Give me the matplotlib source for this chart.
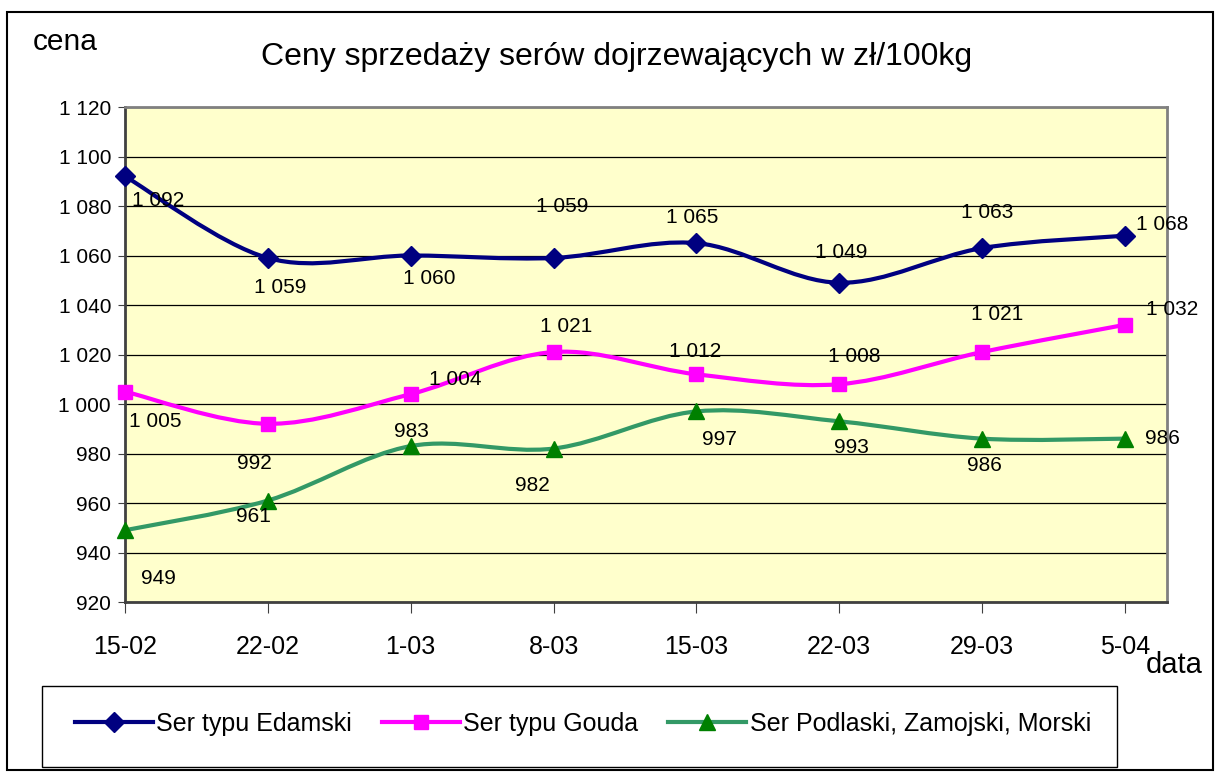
import matplotlib
matplotlib.use('Agg')
import matplotlib.pyplot as plt
from matplotlib.path import Path
from matplotlib.patches import PathPatch, Rectangle
from matplotlib.lines import Line2D

plt.rcParams['font.family'] = ['Liberation Sans', 'DejaVu Sans']

# data
dates = ["15-02", "22-02", "1-03", "8-03", "15-03", "22-03", "29-03", "5-04"]
edamski = [1092, 1059, 1060, 1059, 1065, 1049, 1063, 1068]
gouda = [1005, 992, 1004, 1021, 1012, 1008, 1021, 1032]
podlaski = [949, 961, 983, 982, 997, 993, 986, 986]
names = ["Ser typu Edamski", "Ser typu Gouda", "Ser Podlaski, Zamojski, Morski"]

# label offsets in pixels (dx, dy) from each marker
off_edam = [(33, -24), (12, -30), (19, -23), (9, 51), (-4, 26), (2, 30), (5, 36), (37, 11)]
off_gouda = [(30, -30), (-13, -40), (45, 15), (13, 26), (-1, 23), (15, 28), (15, 38), (47, 15)]
off_podl = [(33, -48), (-14, -16), (1, 15), (-21, -37), (23, -28), (12, -26), (2, -27), (37, 0)]


def smooth(xs, ys):
    # Excel-like smoothed line: Catmull-Rom through the points as cubic Bezier
    pts = list(zip(xs, ys))
    n = len(pts)
    verts = [pts[0]]
    codes = [Path.MOVETO]
    for i in range(n - 1):
        p0 = pts[i - 1] if i > 0 else pts[i]
        p1 = pts[i]
        p2 = pts[i + 1]
        p3 = pts[i + 2] if i + 2 < n else pts[i + 1]
        c1 = (p1[0] + (p2[0] - p0[0]) / 6, p1[1] + (p2[1] - p0[1]) / 6)
        c2 = (p2[0] - (p3[0] - p1[0]) / 6, p2[1] - (p3[1] - p1[1]) / 6)
        verts += [c1, c2, p2]
        codes += [Path.CURVE4] * 3
    return Path(verts, codes)


fig = plt.figure(figsize=(12.18, 7.77), dpi=100)
ax = fig.add_axes([125/1218, 1-602/777, (1167-125)/1218, (602-107)/777])
ax.set_facecolor('#FFFFCC')

x = list(range(len(dates)))
series = [
    (edamski, '#000080', '#000080', 'D', 10, off_edam),
    (gouda, '#FF00FF', '#FF00FF', 's', 10, off_gouda),
    (podlaski, '#339966', '#008000', '^', 12, off_podl),
]
for vals, lc, mc, mk, ms, offs in series:
    ax.add_patch(PathPatch(smooth(x, vals), facecolor='none', edgecolor=lc,
                           lw=3.0, zorder=3, capstyle='round'))
    ax.plot(x, vals, ls='none', marker=mk, ms=ms, color=mc, zorder=4, clip_on=False)
    for xi, v, (dx, dy) in zip(x, vals, offs):
        lab = f"{v:,}".replace(",", " ")
        ax.annotate(lab, (xi, v), xytext=(dx, dy), textcoords='offset pixels',
                    ha='center', va='center', fontsize=15, zorder=5,
                    annotation_clip=False)

ax.set_xlim(0, (1167-125)/((1125-125)/7))
ax.set_ylim(920, 1120)
ax.set_yticks(range(920, 1121, 20))
ax.set_yticklabels([f"{v:,}".replace(",", " ") for v in range(920, 1121, 20)], fontsize=15)
ax.set_xticks(x)
ax.set_xticklabels(dates, fontsize=18)
ax.tick_params(axis='x', direction='out', length=8, pad=16, color='#404040')
ax.tick_params(axis='y', direction='out', length=5, pad=5, color='#404040')
ax.grid(axis='y', color='black', lw=0.9)
ax.set_axisbelow(True)
for s in ax.spines.values():
    s.set_color('#808080')
    s.set_linewidth(2)
ax.spines['left'].set_color('#404040')
ax.spines['bottom'].set_color('#404040')

fig.text(617/1218, 1-57/777, "Ceny sprzedaży serów dojrzewających w zł/100kg",
         ha='center', va='center', fontsize=23)
fig.text(33/1218, 1-42/777, "cena", ha='left', va='center', fontsize=21.5)
fig.text(1174/1218, 1-665/777, "data", ha='center', va='center', fontsize=21)

# outer frame and legend box
fig.add_artist(Rectangle((7/1218, 1-770/777), (1213-7)/1218, (770-12)/777,
                         transform=fig.transFigure, fill=False, ec='black', lw=1.5))
fig.add_artist(Rectangle((42/1218, 1-767/777), (1117-42)/1218, (767-686)/777,
                         transform=fig.transFigure, fill=False, ec='black', lw=1))

handles = [
    Line2D([], [], color='#000080', lw=3.0, marker='D', ms=10),
    Line2D([], [], color='#FF00FF', lw=3.0, marker='s', ms=10),
    Line2D([], [], color='#339966', lw=3.0, marker='^', ms=12, mfc='#008000', mec='#008000'),
]
fig.legend(handles, names, loc='center', bbox_to_anchor=(583/1218, 1-724/777),
           ncol=3, frameon=False, fontsize=18, handlelength=3.1, handletextpad=0.15,
           columnspacing=1.2, borderpad=0, borderaxespad=0)

fig.savefig('out.png', dpi=100)
